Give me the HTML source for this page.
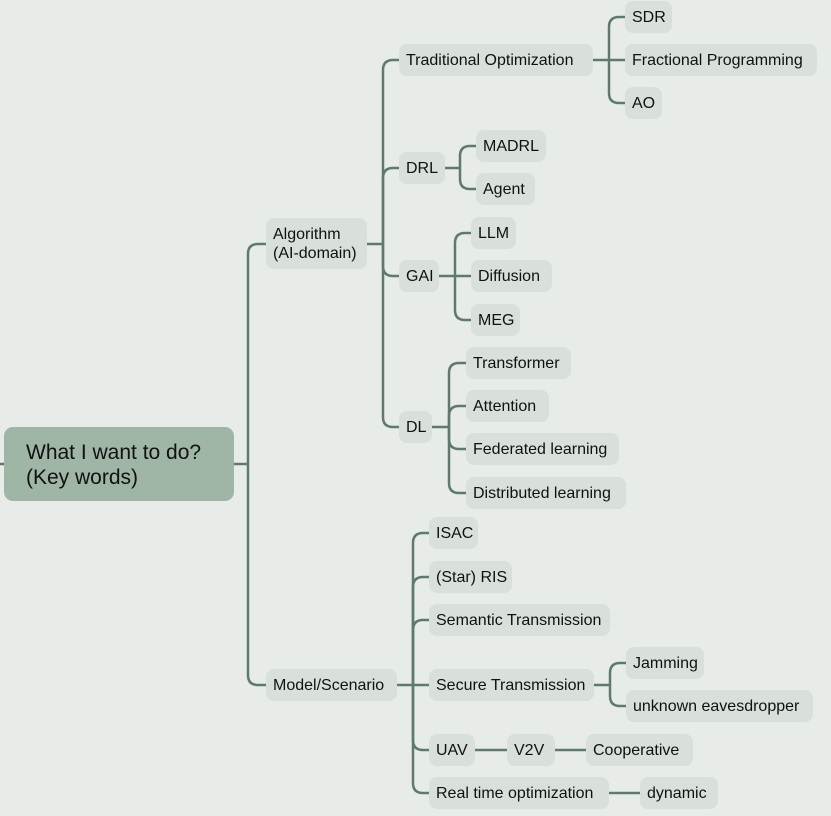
<!DOCTYPE html>
<html><head><meta charset="utf-8"><style>
html,body{margin:0;padding:0;}
body{width:831px;height:816px;background:#e7ece8;position:relative;overflow:hidden;font-family:"Liberation Sans",sans-serif;}
.n{position:absolute;background:#d8e0d9;border-radius:8px;height:32px;line-height:33px;font-size:16px;color:#111;padding-left:7px;box-sizing:border-box;white-space:nowrap;letter-spacing:0px;}
.r{position:absolute;left:4px;top:427px;width:230px;height:74px;background:#9fb5a5;border-radius:9px;font-size:21px;line-height:25px;color:#111;padding:13px 0 0 22px;box-sizing:border-box;}
svg{position:absolute;left:0;top:0;}
</style></head><body>
<svg width="831" height="816" fill="none" stroke="#5f7a68" stroke-width="2.5">
<path d="M0 464H4"/>
<path d="M234 464H248"/>
<path d="M248 464V254Q248 244 258 244H266"/>
<path d="M248 464V675Q248 685 258 685H266"/>
<path d="M367 244H383"/>
<path d="M383 244V70Q383 60 393 60H399"/>
<path d="M383 244V178Q383 168 393 168H399"/>
<path d="M383 244V266Q383 276 393 276H399"/>
<path d="M383 244V417Q383 427 393 427H399"/>
<path d="M593 60H625"/>
<path d="M609 60V27Q609 17 619 17H625"/>
<path d="M609 60V93Q609 103 619 103H625"/>
<path d="M445 168H460"/>
<path d="M460 168V156Q460 146 470 146H476"/>
<path d="M460 168V179Q460 189 470 189H476"/>
<path d="M439 276H471"/>
<path d="M455 276V243Q455 233 465 233H471"/>
<path d="M455 276V310Q455 320 465 320H471"/>
<path d="M432 427H449"/>
<path d="M449 427V373Q449 363 459 363H466"/>
<path d="M449 427V416Q449 406 459 406H466"/>
<path d="M449 427V439Q449 449 459 449H466"/>
<path d="M449 427V483Q449 493 459 493H466"/>
<path d="M397 685H429"/>
<path d="M413 685V543Q413 533 423 533H429"/>
<path d="M413 685V587Q413 577 423 577H429"/>
<path d="M413 685V630Q413 620 423 620H429"/>
<path d="M413 685V740Q413 750 423 750H429"/>
<path d="M413 685V783Q413 793 423 793H429"/>
<path d="M594 685H610"/>
<path d="M610 685V673Q610 663 620 663H626"/>
<path d="M610 685V696Q610 706 620 706H626"/>
<path d="M475 750H507"/>
<path d="M555 750H586"/>
<path d="M609 793H640"/>
</svg>
<div class="r">What I want to do?<br>(Key words)</div>
<div class="n" style="left:266px;top:218px;width:101px;height:51px;line-height:19px;padding-top:7px;">Algorithm<br>(AI-domain)</div>
<div class="n" style="left:399px;top:44px;width:194px;">Traditional Optimization</div>
<div class="n" style="left:625px;top:1px;width:47px;">SDR</div>
<div class="n" style="left:625px;top:44px;width:192px;">Fractional Programming</div>
<div class="n" style="left:625px;top:87px;width:37px;">AO</div>
<div class="n" style="left:399px;top:152px;width:46px;">DRL</div>
<div class="n" style="left:476px;top:130px;width:70px;">MADRL</div>
<div class="n" style="left:476px;top:173px;width:59px;">Agent</div>
<div class="n" style="left:399px;top:260px;width:40px;">GAI</div>
<div class="n" style="left:471px;top:217px;width:45px;">LLM</div>
<div class="n" style="left:471px;top:260px;width:81px;">Diffusion</div>
<div class="n" style="left:471px;top:304px;width:49px;">MEG</div>
<div class="n" style="left:399px;top:411px;width:33px;">DL</div>
<div class="n" style="left:466px;top:347px;width:105px;">Transformer</div>
<div class="n" style="left:466px;top:390px;width:83px;">Attention</div>
<div class="n" style="left:466px;top:433px;width:153px;">Federated learning</div>
<div class="n" style="left:466px;top:477px;width:160px;">Distributed learning</div>
<div class="n" style="left:266px;top:669px;width:131px;">Model/Scenario</div>
<div class="n" style="left:429px;top:517px;width:49px;">ISAC</div>
<div class="n" style="left:429px;top:561px;width:83px;">(Star) RIS</div>
<div class="n" style="left:429px;top:604px;width:181px;">Semantic Transmission</div>
<div class="n" style="left:429px;top:669px;width:165px;">Secure Transmission</div>
<div class="n" style="left:626px;top:647px;width:78px;">Jamming</div>
<div class="n" style="left:626px;top:690px;width:187px;">unknown eavesdropper</div>
<div class="n" style="left:429px;top:734px;width:46px;">UAV</div>
<div class="n" style="left:507px;top:734px;width:48px;">V2V</div>
<div class="n" style="left:586px;top:734px;width:107px;">Cooperative</div>
<div class="n" style="left:429px;top:777px;width:180px;">Real time optimization</div>
<div class="n" style="left:640px;top:777px;width:78px;">dynamic</div>
</body></html>
